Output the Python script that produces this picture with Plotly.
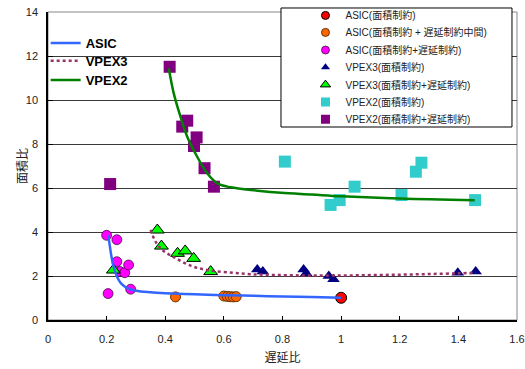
import plotly.graph_objects as go

# ---- data ----
asic_area_x = [1.0]
asic_area_y = [1.01]

asic_mid_x = [0.435, 0.600, 0.612, 0.622, 0.632, 0.642]
asic_mid_y = [1.05, 1.09, 1.07, 1.06, 1.05, 1.06]

asic_both_x = [0.200, 0.235, 0.235, 0.245, 0.262, 0.275, 0.282, 0.205]
asic_both_y = [3.85, 3.65, 2.65, 2.20, 2.15, 2.50, 1.40, 1.20]

vpex3_area_x = [0.714, 0.733, 0.872, 0.881, 0.958, 0.974, 1.398, 1.459]
vpex3_area_y = [2.30, 2.20, 2.30, 2.12, 2.00, 1.85, 2.15, 2.20]

vpex3_both_x = [0.223, 0.373, 0.387, 0.442, 0.468, 0.497, 0.555]
vpex3_both_y = [2.27, 4.09, 3.36, 3.03, 3.14, 2.80, 2.20]

vpex2_area_x = [0.808, 0.964, 0.995, 1.046, 1.206, 1.255, 1.274, 1.457]
vpex2_area_y = [7.20, 5.23, 5.45, 6.06, 5.68, 6.74, 7.15, 5.45]

vpex2_both_x = [0.212, 0.415, 0.458, 0.475, 0.498, 0.507, 0.534, 0.566]
vpex2_both_y = [6.18, 11.51, 8.79, 9.06, 7.91, 8.30, 6.90, 6.06]

# trend curves
asic_fit_x = [0.205, 0.21, 0.215, 0.22, 0.23, 0.24, 0.25, 0.27, 0.30, 0.35, 0.40, 0.50, 0.60, 0.70, 0.80, 0.90, 1.00]
asic_fit_y = [3.85, 3.45, 3.00, 2.65, 2.15, 1.85, 1.65, 1.45, 1.33, 1.26, 1.22, 1.17, 1.13, 1.10, 1.07, 1.04, 1.01]

vpex3_fit_x = [0.35, 0.367, 0.39, 0.43, 0.486, 0.543, 0.612, 0.692, 0.80, 0.90, 1.00, 1.10, 1.20, 1.30, 1.40, 1.46]
vpex3_fit_y = [4.10, 3.56, 3.18, 2.85, 2.47, 2.27, 2.17, 2.08, 2.04, 2.02, 2.02, 2.04, 2.06, 2.09, 2.12, 2.15]

vpex2_fit_x = [0.412, 0.429, 0.452, 0.475, 0.509, 0.543, 0.578, 0.623, 0.715, 0.795, 0.90, 1.00, 1.20, 1.456]
vpex2_fit_y = [11.44, 10.30, 9.24, 8.33, 7.42, 6.67, 6.21, 6.03, 5.88, 5.78, 5.70, 5.62, 5.52, 5.44]

x_ticks = [0, 0.2, 0.4, 0.6, 0.8, 1.0, 1.2, 1.4, 1.6]
x_tick_text = ["0", "0.2", "0.4", "0.6", "0.8", "1", "1.2", "1.4", "1.6"]
y_ticks = [0, 2, 4, 6, 8, 10, 12, 14]

FONT = "Liberation Sans, Arial, Noto Sans CJK JP, sans-serif"

fig = go.Figure()
legends = {}

# right-hand legend rows (one legend per row for exact row spacing)
right_rows_y = [1.036, 0.9808, 0.9236, 0.8674, 0.8112, 0.755, 0.6988]
left_rows_y = [0.948, 0.890, 0.828]

series = [
    (asic_area_x, asic_area_y, "ASIC(面積制約)", "circle", "#FF0000", 11, 8, "#000000", 1),
    (asic_mid_x, asic_mid_y, "ASIC(面積制約 + 遅延制約中間)", "circle", "#FF6600", 10, 8, "#663300", 1),
    (asic_both_x, asic_both_y, "ASIC(面積制約+遅延制約)", "circle", "#FF00FF", 10, 8, "#000000", 0.6),
    (vpex3_area_x, vpex3_area_y, "VPEX3(面積制約)", "triangle-up", "#000080", 11, 8, "#000080", 0),
    (vpex3_both_x, vpex3_both_y, "VPEX3(面積制約+遅延制約)", "triangle-up", "#00FF00", 12, 9, "#000000", 1),
    (vpex2_area_x, vpex2_area_y, "VPEX2(面積制約)", "square", "#33CCCC", 12, 9, "#33CCCC", 0),
    (vpex2_both_x, vpex2_both_y, "VPEX2(面積制約+遅延制約)", "square", "#800080", 12, 9, "#800080", 0),
]

for i, (x, y, name, sym, col, size, lsize, lcol, lw) in enumerate(series):
    fig.add_trace(go.Scatter(
        x=x, y=y, mode="markers", name=name, showlegend=False,
        marker=dict(symbol=sym, color=col, size=size, line=dict(color=lcol, width=lw)),
    ))
    key = "legend" if i == 0 else f"legend{i + 3}"
    # legend-only proxy with the smaller legend symbol
    fig.add_trace(go.Scatter(
        x=[None], y=[None], mode="markers", name=name, legend=key, showlegend=True,
        marker=dict(symbol=sym, color=col, size=lsize, line=dict(color=lcol, width=lw)),
    ))
    legends[key] = dict(x=0.549, y=right_rows_y[i], xanchor="left", yanchor="top",
                        bgcolor="rgba(0,0,0,0)", borderwidth=0,
                        font=dict(family=FONT, size=10, color="#222"), itemwidth=30)

lines = [
    (asic_fit_x, asic_fit_y, "ASIC", dict(color="#3366FF", width=2.5, shape="spline")),
    (vpex3_fit_x, vpex3_fit_y, "VPEX3", dict(color="#993366", width=2.5, dash="dot", shape="spline")),
    (vpex2_fit_x, vpex2_fit_y, "VPEX2", dict(color="#008000", width=2.5, shape="spline")),
]
for j, (x, y, name, ln) in enumerate(lines):
    key = f"legend{j + 2}" if j < 2 else "legend10"
    fig.add_trace(go.Scatter(x=x, y=y, mode="lines", name=name, legend=key, line=ln))
    legends[key] = dict(x=-0.005, y=left_rows_y[j], xanchor="left", yanchor="top",
                        bgcolor="rgba(0,0,0,0)", borderwidth=0,
                        font=dict(family=FONT, size=13, color="#000", weight="bold"),
                        itemwidth=30)

fig.update_layout(
    width=525, height=369,
    margin=dict(l=48, r=8, t=12, b=49, autoexpand=False),
    paper_bgcolor="white", plot_bgcolor="white",
    font=dict(family=FONT, size=11, color="#222222"),
    xaxis=dict(range=[0, 1.6], tickvals=x_ticks, ticktext=x_tick_text,
               ticks="inside", ticklen=4, tickcolor="#000", showgrid=False,
               showline=True, linecolor="#000", linewidth=2, zeroline=False,
               title=dict(text="遅延比", font=dict(size=12), standoff=9),
               ticklabelstandoff=8, automargin=False),
    yaxis=dict(range=[0, 14], tickvals=y_ticks, ticks="inside", ticklen=5,
               tickcolor="#000", showgrid=True, gridcolor="#3a3a3a", gridwidth=1,
               showline=True, linecolor="#000", linewidth=1.5, zeroline=False,
               ticklabelstandoff=6, automargin=False),
    annotations=[
        dict(text="面積比", xref="paper", yref="paper", x=-0.0554, y=0.5,
             xanchor="center", yanchor="middle", textangle=-90, showarrow=False,
             font=dict(family=FONT, size=12, color="#222")),
    ],
    shapes=[
        dict(type="rect", xref="paper", yref="paper", x0=0, x1=1, y0=0, y1=1,
             line=dict(color="#888888", width=1), layer="below"),
        dict(type="rect", xref="paper", yref="paper", x0=0.4968, x1=0.9893,
             y0=0.6266, y1=1.013, line=dict(color="#000", width=1),
             fillcolor="white", layer="above"),
    ],
    **legends,
)

fig.write_html("out.html", config={"displayModeBar": False},
               post_script="document.body.style.margin='0';document.body.style.overflow='hidden';")
